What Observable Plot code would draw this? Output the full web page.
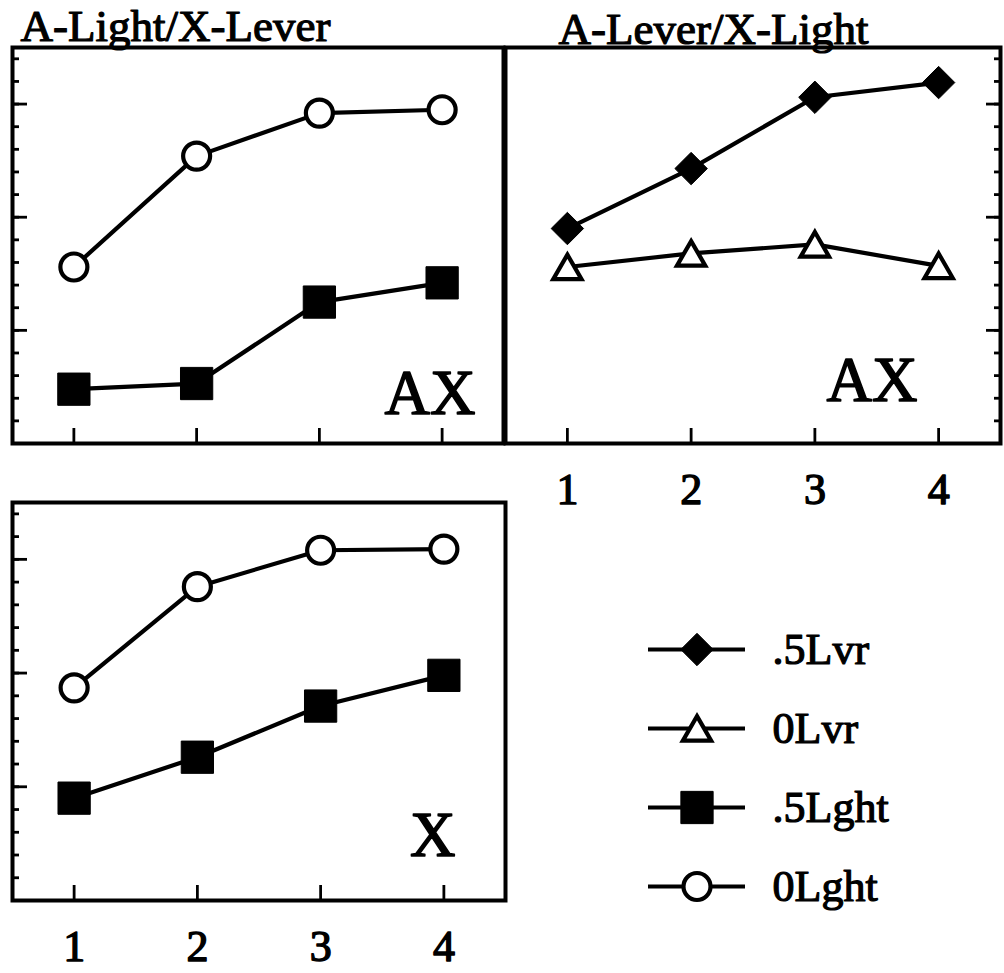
<!DOCTYPE html>
<html>
<head>
<meta charset="utf-8">
<script src="https://cdn.jsdelivr.net/npm/d3@7"></script>
<script src="https://cdn.jsdelivr.net/npm/@observablehq/plot@0.6"></script>
<style>
  html, body { margin: 0; padding: 0; background: white; }
  #wrap { position: relative; width: 1004px; height: 973px; overflow: hidden; background: white; }
</style>
</head>
<body>
<div id="wrap"></div>
<script>
// ---------- data ----------
const sessions = [1, 2, 3, 4];
const sessionLabels = ["1", "2", "3", "4"];

// Top-left panel: A-Light/X-Lever (AX)
const alxl_0Lght = [15.6, 25.4, 29.2, 29.5];
const alxl_5Lght = [4.8, 5.3, 12.5, 14.2];

// Top-right panel: A-Lever/X-Light (AX)
const alvxl_5Lvr = [19.0, 24.3, 30.6, 31.9];
const alvxl_0Lvr = [15.6, 16.8, 17.6, 15.7];

// Bottom-left panel: X
const x_0Lght = [18.7, 27.6, 30.8, 30.9];
const x_5Lght = [9.0, 12.6, 17.1, 19.8];

const legendLabels = [".5Lvr", "0Lvr", ".5Lght", "0Lght"];
const panelTitles = ["A-Light/X-Lever", "A-Lever/X-Light", ""];
const panelLabels = ["AX", "AX", "X"];

const yMinorTicks = d3.range(2, 35, 2);
const yMajorTicks = [10, 20, 30];

// ---------- styles ----------
const FONT = "'Liberation Serif', 'Times New Roman', Times, serif";
const LINE_W = 4.2;
const seriesStyle = {
  ".5Lvr": {symbol: "diamond2", fill: "black", stroke: "black", strokeWidth: 1, r: 14.6},
  "0Lvr": {symbol: "triangle", fill: "white", stroke: "black", strokeWidth: 4.2, r: 10.5, dy: 4},
  ".5Lght": {symbol: "square", fill: "black", stroke: "black", strokeWidth: 1, r: 18.2},
  "0Lght": {symbol: "circle", fill: "white", stroke: "black", strokeWidth: 4.2, r: 13.5}
};

function toRows(values) {
  return sessions.map((s, i) => ({session: s, value: values[i]}));
}

function panel(opts) {
  const {series, title, label, yAnchor, showXLabels, width, height, margins, titleDx, titleDy, labelDx, labelDy} = opts;
  const marks = [
    Plot.frame({stroke: "black", strokeWidth: 4}),
    Plot.axisY({ticks: yMinorTicks, anchor: yAnchor, tickSize: -7, strokeWidth: 2.8, tickFormat: () => "", label: null}),
    Plot.axisY({ticks: yMajorTicks, anchor: yAnchor, tickSize: -15, strokeWidth: 2.8, tickFormat: () => "", label: null}),
    Plot.axisX({ticks: sessions, anchor: "bottom", tickSize: -15, strokeWidth: 2.8, tickFormat: () => "", label: null})
  ];
  if (showXLabels) {
    marks.push(Plot.axisX({ticks: sessions, anchor: "bottom", tickSize: 0, tickPadding: 29,
      tickFormat: d => sessionLabels[sessions.indexOf(d)], fontSize: 44, label: null,
      textStroke: "black", textStrokeWidth: 1.4}));
  }
  for (const s of series) {
    const rows = toRows(s.values);
    marks.push(Plot.line(rows, {x: "session", y: "value", stroke: "black", strokeWidth: LINE_W}));
  }
  for (const s of series) {
    const rows = toRows(s.values);
    marks.push(Plot.dot(rows, {x: "session", y: "value", ...seriesStyle[s.name]}));
  }
  if (title) {
    marks.push(Plot.text([title], {frameAnchor: "top-left", textAnchor: "start", lineAnchor: "bottom",
      dx: titleDx, dy: titleDy, fontSize: 45, fill: "black", stroke: "black", strokeWidth: 1.2}));
  }
  marks.push(Plot.text([label], {frameAnchor: "bottom-right", textAnchor: "end", lineAnchor: "bottom",
    dx: labelDx, dy: labelDy, fontSize: 63, fill: "black", stroke: "black", strokeWidth: 1.5}));

  return Plot.plot({
    width, height,
    marginLeft: margins[0], marginRight: margins[1], marginTop: margins[2], marginBottom: margins[3],
    style: {fontFamily: FONT, fontSize: "44px", background: "transparent", overflow: "visible", color: "black"},
    x: {domain: [0.5, 4.5], label: null},
    y: {domain: [0, 35], label: null},
    marks
  });
}

const wrap = document.getElementById("wrap");
function place(node, left, top) {
  node.style.position = "absolute";
  node.style.left = left + "px";
  node.style.top = top + "px";
  wrap.appendChild(node);
}

// Top-left
place(panel({
  series: [{name: "0Lght", values: alxl_0Lght}, {name: ".5Lght", values: alxl_5Lght}],
  title: panelTitles[0], label: panelLabels[0], yAnchor: "left", showXLabels: false,
  width: 510, height: 470, margins: [12, 7, 47, 27],
  titleDx: 8, titleDy: -7, labelDx: -28, labelDy: -30
}), 0, 0);

// Top-right
place(panel({
  series: [{name: ".5Lvr", values: alvxl_5Lvr}, {name: "0Lvr", values: alvxl_0Lvr}],
  title: panelTitles[1], label: panelLabels[1], yAnchor: "right", showXLabels: true,
  width: 499, height: 520, margins: [0, 4, 47, 77],
  titleDx: 53, titleDy: -4, labelDx: -83, labelDy: -43
}), 505, 0);

// Bottom-left
place(panel({
  series: [{name: "0Lght", values: x_0Lght}, {name: ".5Lght", values: x_5Lght}],
  title: panelTitles[2], label: panelLabels[2], yAnchor: "left", showXLabels: true,
  width: 510, height: 493, margins: [12, 5, 22, 73],
  titleDx: 0, titleDy: 0, labelDx: -50, labelDy: -45
}), 0, 480);

// Legend
const legend = Plot.plot({
  width: 404, height: 330,
  marginLeft: 48, marginRight: 259, marginTop: 48, marginBottom: 43,
  style: {fontFamily: FONT, fontSize: "44px", background: "transparent", overflow: "visible", color: "black"},
  y: {type: "point", domain: legendLabels, padding: 0, axis: null},
  marks: [
    Plot.ruleY(legendLabels, {y: d => d, stroke: "black", strokeWidth: LINE_W}),
    ...legendLabels.map(l => Plot.dot([l], {y: d => d, ...seriesStyle[l]})),
    Plot.text(legendLabels, {y: d => d, text: d => d, frameAnchor: "right", dx: 27, textAnchor: "start",
      lineAnchor: "middle", fontSize: 44, fill: "black", stroke: "black", strokeWidth: 1.2})
  ]
});
place(legend, 600, 600);
</script>
</body>
</html>
